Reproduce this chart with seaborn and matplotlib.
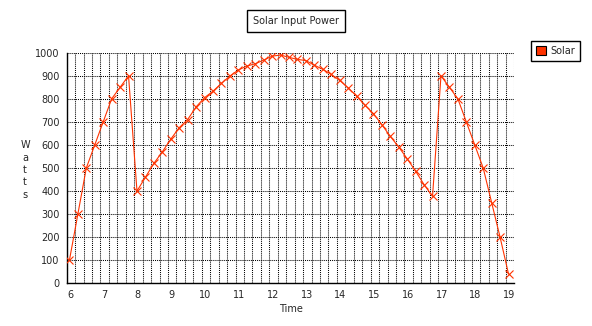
import matplotlib
matplotlib.use("Agg")
import matplotlib.pyplot as plt
import matplotlib.transforms as mtransforms
from matplotlib.patches import Patch
import numpy as np
import pandas as pd
import seaborn as sns

# Sample times (hours of the day) and measured solar input power (watts)
time_h = [
    6.08, 6.33, 6.58, 6.83, 7.08, 7.33, 7.58, 7.83,
    8.08, 8.33, 8.58, 8.83, 9.08, 9.33, 9.58, 9.83,
    10.08, 10.33, 10.58, 10.83, 11.08, 11.33, 11.58, 11.83,
    12.08, 12.33, 12.58, 12.83, 13.08, 13.33, 13.58, 13.83,
    14.08, 14.33, 14.58, 14.83, 15.08, 15.33, 15.58, 15.83,
    16.08, 16.33, 16.58, 16.83, 17.08, 17.33, 17.58, 17.83,
    18.08, 18.33, 18.58, 18.83, 19.08,
]
solar_w = [
    100, 300, 500, 600, 700, 800, 850, 900,
    400, 460, 520, 570, 625, 675, 710, 765,
    805, 833, 867, 899, 925, 942, 952, 968,
    985, 990, 980, 971, 966, 946, 928, 906,
    880, 848, 812, 772, 736, 688, 637, 591,
    540, 486, 428, 377, 900, 850, 800, 700,
    600, 500, 350, 200, 40,
]
hour_ticks = list(range(6, 20))
watt_ticks = list(range(0, 1001, 100))

series_color = "#FF3300"

sns.set_style("white")
plt.rcParams["font.family"] = ["DejaVu Sans"]

fig = plt.figure(figsize=(5.92, 3.26), dpi=100)
ax = fig.add_axes([0.1127, 0.131, 0.8687 - 0.1127, 0.8383 - 0.131])

df = pd.DataFrame({"Time": time_h, "Watts": solar_w})
sns.lineplot(data=df, x="Time", y="Watts", ax=ax, color=series_color,
             linewidth=0.8, marker="x", markersize=6, markeredgewidth=0.8,
             markeredgecolor=series_color, estimator=None, sort=False,
             legend=False, zorder=3)

ax.set_xlim(6, 19.25)
ax.set_ylim(0, 1000)
ax.set_xticks(hour_ticks)
ax.set_xticks(np.arange(6, 19.26, 0.25), minor=True)
ax.set_yticks(watt_ticks)
ax.set_xticklabels([str(h) for h in hour_ticks])

dot = (0, (1, 1))
ax.grid(True, which="both", axis="x", color="black", linestyle=dot, linewidth=0.75)
ax.grid(True, which="major", axis="y", color="black", linestyle=dot, linewidth=0.75)
ax.set_axisbelow(True)

for side in ("top", "right"):
    ax.spines[side].set_visible(False)
for side in ("left", "bottom"):
    ax.spines[side].set_color("black")
    ax.spines[side].set_linewidth(1.0)

ax.tick_params(axis="both", which="both", direction="inout", length=4,
               width=0.9, color="black", labelsize=7, pad=3)
ax.tick_params(axis="x", which="minor", labelbottom=False)

shift = mtransforms.ScaledTranslation(2.5 / 72, 0, fig.dpi_scale_trans)
for lab in ax.get_xticklabels():
    lab.set_transform(lab.get_transform() + shift)

ax.set_xlabel("Time", fontsize=7, labelpad=3)
ax.set_ylabel("")
fig.text(25 / 592, 1 - 170 / 326, "W\na\nt\nt\ns", ha="center", va="center",
         fontsize=7, linespacing=1.3)

fig.text(295.7 / 592, 1 - 21.2 / 326, "Solar Input Power", ha="center",
         va="center", fontsize=7,
         bbox=dict(boxstyle="square,pad=0.6", facecolor="white",
                   edgecolor="black", linewidth=1.0))

handle = Patch(facecolor=series_color, edgecolor="black", linewidth=0.8,
               label="Solar")
leg = fig.legend(handles=[handle], loc="upper left",
                 bbox_to_anchor=(530.7 / 592, 1 - 41 / 326),
                 fontsize=7, frameon=True, fancybox=False, framealpha=1,
                 edgecolor="black", handlelength=1.1, handleheight=1.1,
                 handletextpad=0.4, borderpad=0.5, borderaxespad=0)
leg.get_frame().set_linewidth(1.0)

fig.savefig("out.png", dpi=100)
